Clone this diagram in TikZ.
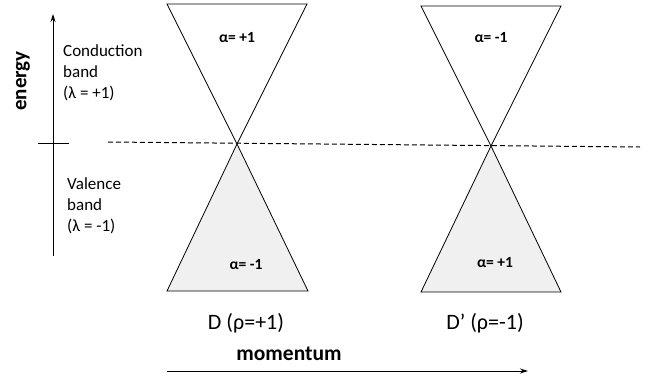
\documentclass[tikz,border=0pt]{standalone}
\usepackage{fontspec}
\setmainfont{Carlito}
\usetikzlibrary{arrows.meta}
\begin{document}
\begin{tikzpicture}[x=1pt,y=-1pt,
  cone/.style={draw=black,line width=0.8pt,line join=miter},
  upcone/.style={cone,fill=white},
  lowcone/.style={cone,fill=black!6},
  alab/.style={font=\fontsize{15.5}{17}\selectfont\bfseries,inner sep=0pt},
  band/.style={font=\fontsize{17}{21}\selectfont,align=left,anchor=north west,inner sep=0pt},
  axis/.style={line width=1pt,-{Stealth[length=8pt,width=5pt]}},
  valley/.style={font=\fontsize{22}{24}\selectfont,inner sep=0pt}]
\useasboundingbox (0,0) rectangle (665,386);
% dashed zero line
\coordinate (dl) at (108,142);
\coordinate (dr) at (640,147);
\draw[line width=1pt,dash pattern=on 5pt off 3pt] (dl) -- (dr);
% left cone pair
\coordinate (A1) at (237,144);
\draw[upcone] (167,4) -- (307,4) -- (A1) -- cycle;
\draw[lowcone] (A1) -- (308,291) -- (167,291) -- cycle;
\node[alab] (a1) at (237,38) {α= +1};
\node[alab] (a2) at (246,265) {α= -1};
% right cone pair
\coordinate (A2) at (491,146);
\draw[upcone] (421,6) -- (561,6) -- (A2) -- cycle;
\draw[lowcone] (A2) -- (561,292) -- (421,292) -- cycle;
\node[alab] (a3) at (491,38) {α= -1};
\node[alab] (a4) at (495,263) {α= +1};
% energy axis
\coordinate (e0) at (53,256);
\coordinate (e1) at (53,14);
\draw[axis] (e0) -- (e1);
\coordinate (t0) at (38,143);
\coordinate (t1) at (69,143);
\draw[line width=1pt] (t0) -- (t1);
\node[font=\fontsize{21}{24}\selectfont\bfseries,rotate=90,inner sep=0pt] (en) at (23,81) {energy};
\node[band] (cb) at (63,44) {Conduction\\band\\(λ = +1)};
\node[band] (vb) at (67,177) {Valence\\band\\(λ = -1)};
% valley labels
\node[valley] (D1) at (246,323) {D (ρ=+1)};
\node[valley] (D2) at (485,323) {D’ (ρ=-1)};
% momentum axis
\node[font=\fontsize{21.5}{24}\selectfont\bfseries,inner sep=0pt] (mo) at (289,354) {momentum};
\coordinate (m0) at (167,371);
\coordinate (m1) at (528,371);
\draw[axis] (m0) -- (m1);
\end{tikzpicture}
\end{document}
